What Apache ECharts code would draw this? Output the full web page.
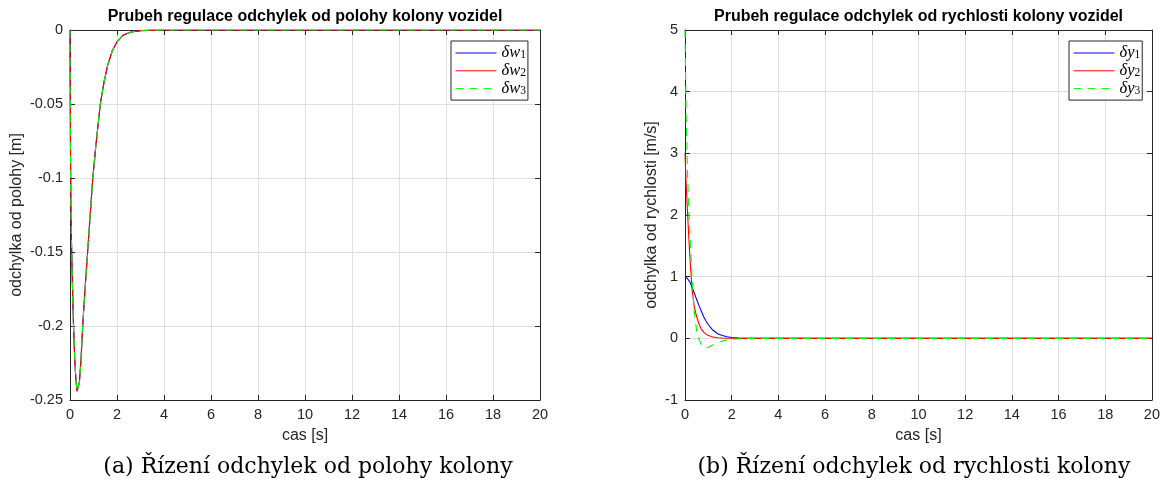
<!DOCTYPE html>
<html>
<head>
<meta charset="utf-8">
<script src="https://cdn.jsdelivr.net/npm/echarts@6/dist/echarts.min.js"></script>
<style>
  html, body { margin: 0; padding: 0; background: #fff; }
  #chart { width: 1163px; height: 490px; }
</style>
</head>
<body>
<div id="chart"></div>
<script>
// Position deviations of the three vehicles (all three responses coincide)
const timeW = [0, 0.02, 0.04, 0.07, 0.1, 0.15, 0.2, 0.25, 0.3, 0.34, 0.4, 0.47, 0.54, 0.64, 0.75, 0.85, 0.97, 1.1, 1.29, 1.45, 1.6, 1.8, 2.0, 2.25, 2.6, 3.0, 3.5, 4, 20];
const deltaW1 = [0, -0.08, -0.125, -0.148, -0.17, -0.2, -0.222, -0.236, -0.244, -0.245, -0.238, -0.2225, -0.2, -0.175, -0.15, -0.127, -0.1, -0.078, -0.05, -0.035, -0.024, -0.014, -0.008, -0.0036, -0.0013, -0.0004, -0.0001, 0, 0];
const deltaW2 = [0, -0.08, -0.125, -0.148, -0.17, -0.2, -0.222, -0.236, -0.244, -0.245, -0.238, -0.2225, -0.2, -0.175, -0.15, -0.127, -0.1, -0.078, -0.05, -0.035, -0.024, -0.014, -0.008, -0.0036, -0.0013, -0.0004, -0.0001, 0, 0];
const deltaW3 = [0, -0.08, -0.125, -0.148, -0.17, -0.2, -0.222, -0.236, -0.244, -0.245, -0.238, -0.2225, -0.2, -0.175, -0.15, -0.127, -0.1, -0.078, -0.05, -0.035, -0.024, -0.014, -0.008, -0.0036, -0.0013, -0.0004, -0.0001, 0, 0];

// Velocity deviations of the three vehicles
const timeY = [0, 0.05, 0.1, 0.15, 0.2, 0.3, 0.4, 0.5, 0.6, 0.7, 0.8, 0.9, 1.0, 1.2, 1.4, 1.6, 1.8, 2.0, 2.3, 2.6, 3.0, 4, 20];
const deltaY1 = [1.0, 0.99, 0.97, 0.95, 0.92, 0.83, 0.73, 0.63, 0.53, 0.44, 0.35, 0.28, 0.22, 0.13, 0.075, 0.045, 0.025, 0.014, 0.006, 0.002, 0.0005, 0, 0];
const deltaY2 = [3.0, 2.5, 2.1, 1.72, 1.38, 0.8, 0.5, 0.35, 0.23, 0.15, 0.1, 0.068, 0.045, 0.022, 0.01, 0.005, 0.002, 0.001, 0, 0, 0, 0, 0];
const deltaY3 = [5.0, 3.6, 2.8, 2.2, 1.8, 1.0, 0.42, 0.12, -0.02, -0.1, -0.135, -0.15, -0.145, -0.11, -0.075, -0.045, -0.028, -0.017, -0.008, -0.003, -0.001, 0, 0];

const legendW = ['δw1', 'δw2', 'δw3'];
const legendY = ['δy1', 'δy2', 'δy3'];

const titles = ['Prubeh regulace odchylek od polohy kolony vozidel', 'Prubeh regulace odchylek od rychlosti kolony vozidel'];
const captions = ['(a) Řízení odchylek od polohy kolony', '(b) Řízení odchylek od rychlosti kolony'];
const xName = 'cas [s]';
const yNames = ['odchylka od polohy [m]', 'odchylka od rychlosti [m/s]'];

const AX = '#262626';
const SANS = 'Liberation Sans, Arial, sans-serif';
const GRIDS = [
  { left: 70, top: 30, width: 470, height: 370 },
  { left: 685, top: 30, width: 467, height: 370 }
];

const pairs = (t, v) => t.map((x, i) => [x, v[i]]);

function mainX(i) {
  return {
    type: 'value', gridIndex: i, min: 0, max: 20, interval: 2, position: 'bottom',
    name: xName, nameLocation: 'middle', nameGap: 28,
    nameTextStyle: { fontFamily: SANS, fontSize: 16, color: AX },
    axisLine: { show: true, onZero: false, lineStyle: { color: AX, width: 1 } },
    axisTick: { show: true, inside: true, length: 5, lineStyle: { color: AX } },
    axisLabel: { fontFamily: SANS, fontSize: 14.5, color: AX, margin: 7 },
    splitLine: { show: true, lineStyle: { color: '#e0e0e0', width: 1 } }
  };
}
function mirrorX(i) {
  return {
    type: 'value', gridIndex: i, min: 0, max: 20, interval: 2, position: 'top',
    axisLine: { show: true, onZero: false, lineStyle: { color: AX, width: 1 } },
    axisTick: { show: true, inside: true, length: 5, lineStyle: { color: AX } },
    axisLabel: { show: false }, splitLine: { show: false }
  };
}
function mainY(i, min, max, interval, gap) {
  return {
    type: 'value', gridIndex: i, min, max, interval, position: 'left',
    name: yNames[i], nameLocation: 'middle', nameGap: gap,
    nameTextStyle: { fontFamily: SANS, fontSize: 16, color: AX },
    axisLine: { show: true, onZero: false, lineStyle: { color: AX, width: 1 } },
    axisTick: { show: true, inside: true, length: 5, lineStyle: { color: AX } },
    axisLabel: { fontFamily: SANS, fontSize: 14.5, color: AX, margin: 7 },
    splitLine: { show: true, lineStyle: { color: '#e0e0e0', width: 1 } }
  };
}
function mirrorY(i, min, max, interval) {
  return {
    type: 'value', gridIndex: i, min, max, interval, position: 'right',
    axisLine: { show: true, onZero: false, lineStyle: { color: AX, width: 1 } },
    axisTick: { show: true, inside: true, length: 5, lineStyle: { color: AX } },
    axisLabel: { show: false }, splitLine: { show: false }
  };
}

function line(name, data, xi, yi, color, dashed) {
  return {
    type: 'line', name, data, xAxisIndex: xi, yAxisIndex: yi,
    symbol: 'none', showSymbol: false, smooth: false, animation: false,
    lineStyle: { color, width: 1.1, type: dashed ? [8, 6] : 'solid' },
    itemStyle: { color }, emphasis: { disabled: true }
  };
}

function legend(names, left) {
  return {
    data: names, orient: 'vertical', left, top: 41,
    itemWidth: 41, itemHeight: 12, itemGap: 0.3, padding: [3, 2, 3, 4],
    borderColor: AX, borderWidth: 1, backgroundColor: '#fff',
    selectedMode: false,
    itemStyle: { opacity: 0 },
    lineStyle: { width: 1 },
    formatter: n => `{m|${n.slice(0, -1)}}{s|${n.slice(-1)}}`,
    textStyle: {
      rich: {
        m: { fontFamily: 'Liberation Serif, serif', fontStyle: 'italic', fontSize: 16.5, color: '#000', lineHeight: 16 },
        s: { fontFamily: 'Liberation Serif, serif', fontSize: 11.5, color: '#000', lineHeight: 16, verticalAlign: 'bottom', padding: [5, 0, 0, 0] }
      }
    }
  };
}

const chart = echarts.init(document.getElementById('chart'), null, { renderer: 'canvas' });
chart.setOption({
  animation: false,
  backgroundColor: '#fff',
  grid: GRIDS.map(g => Object.assign({ containLabel: false }, g)),
  xAxis: [mainX(0), mirrorX(0), mainX(1), mirrorX(1)],
  yAxis: [mainY(0, -0.25, 0, 0.05, 45), mirrorY(0, -0.25, 0, 0.05), mainY(1, -1, 5, 1, 25), mirrorY(1, -1, 5, 1)],
  legend: [legend(legendW, 451), legend(legendY, 1069)],
  series: [
    line(legendW[0], pairs(timeW, deltaW1), 0, 0, '#0000ff', false),
    line(legendW[1], pairs(timeW, deltaW2), 0, 0, '#ff0000', false),
    line(legendW[2], pairs(timeW, deltaW3), 0, 0, '#00ff00', true),
    line(legendY[0], pairs(timeY, deltaY1), 2, 2, '#0000ff', false),
    line(legendY[1], pairs(timeY, deltaY2), 2, 2, '#ff0000', false),
    line(legendY[2], pairs(timeY, deltaY3), 2, 2, '#00ff00', true)
  ],
  graphic: [
    { type: 'text', x: 305, y: 17, style: { text: titles[0], fontFamily: SANS, fontWeight: 'bold', fontSize: 16, fill: '#000', align: 'center', verticalAlign: 'middle' } },
    { type: 'text', x: 918.5, y: 17, style: { text: titles[1], fontFamily: SANS, fontWeight: 'bold', fontSize: 16, fill: '#000', align: 'center', verticalAlign: 'middle' } },
    { type: 'text', x: 308, y: 467, style: { text: captions[0], fontFamily: 'DejaVu Serif, serif', fontSize: 22, fill: '#000', align: 'center', verticalAlign: 'middle' } },
    { type: 'text', x: 914, y: 467, style: { text: captions[1], fontFamily: 'DejaVu Serif, serif', fontSize: 22, fill: '#000', align: 'center', verticalAlign: 'middle' } }
  ]
});
</script>
</body>
</html>
